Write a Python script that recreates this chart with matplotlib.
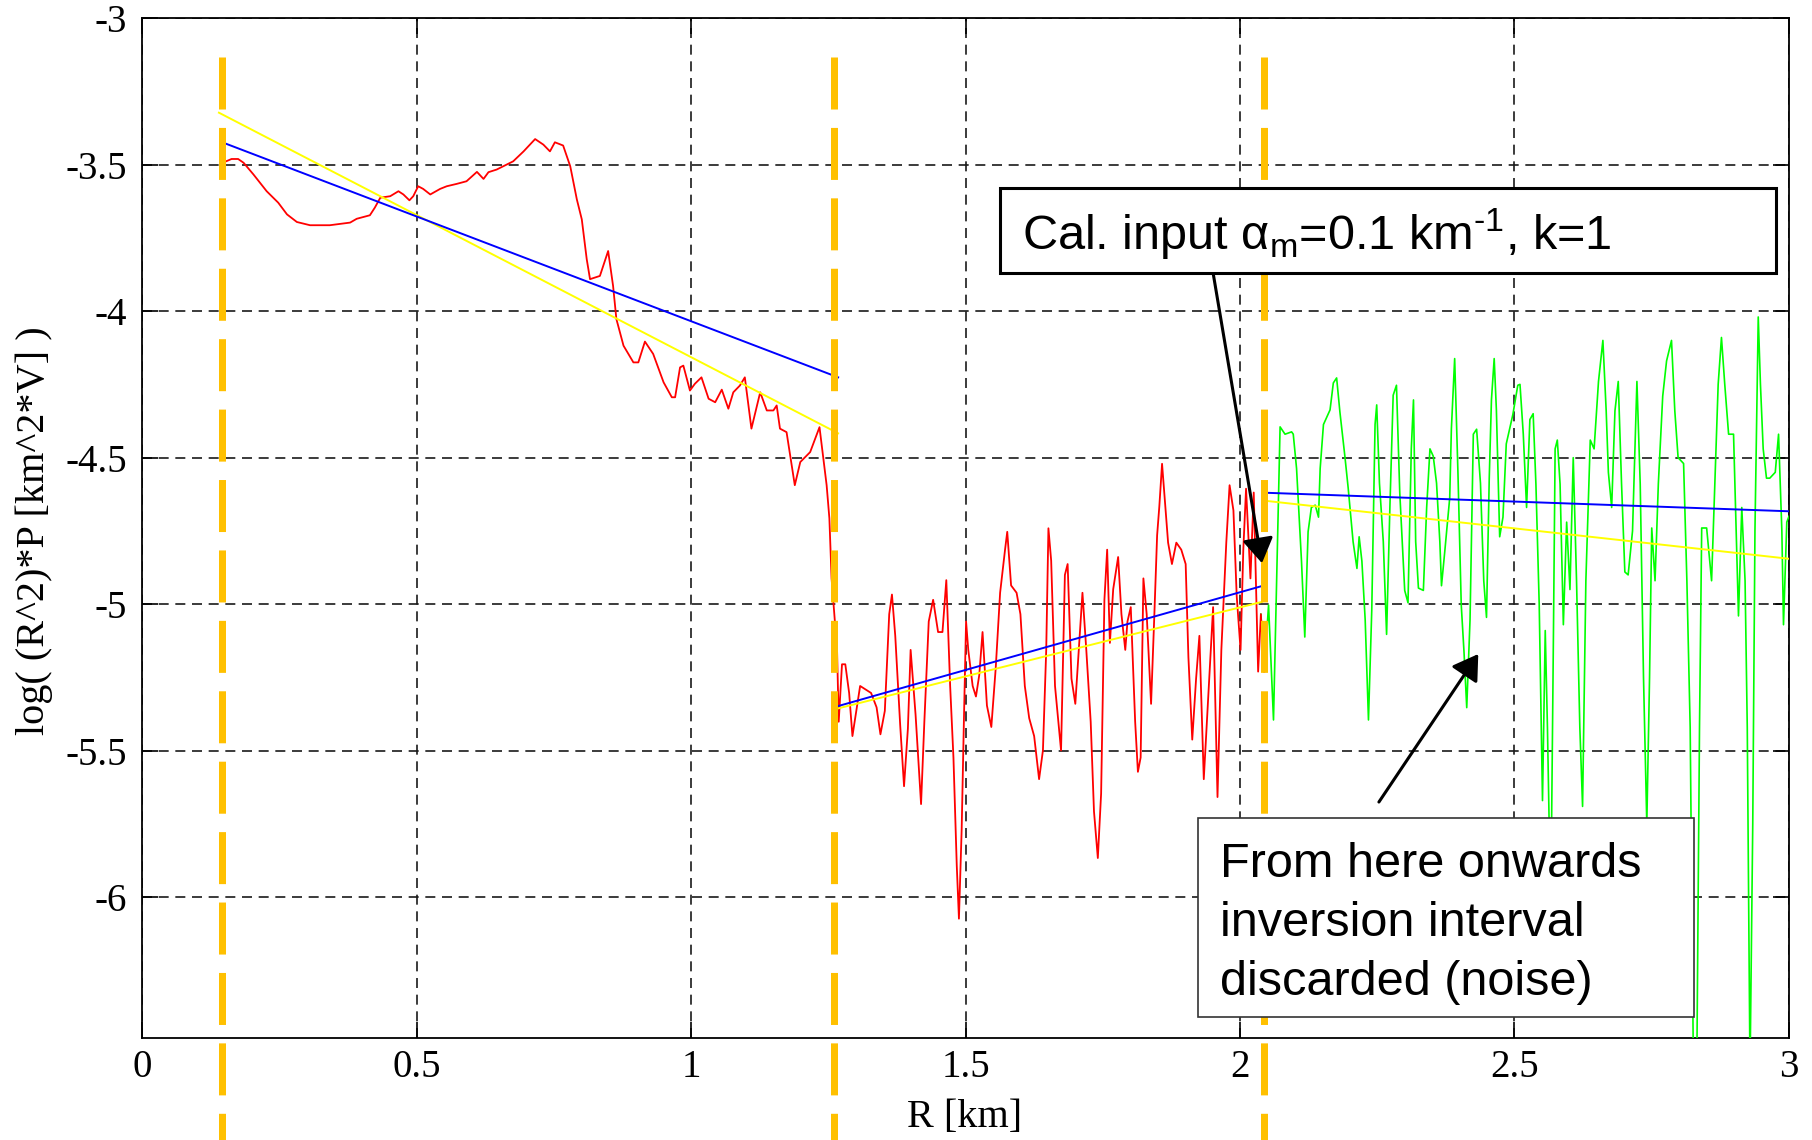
import numpy as np
import matplotlib as mpl
mpl.use('Agg')
import matplotlib.pyplot as plt
from matplotlib.patches import Rectangle
from matplotlib.ticker import MultipleLocator, FormatStrFormatter


# range corrected signal, first inversion interval (R in km, log value)
near_r = [0.153, 0.163, 0.175, 0.185, 0.203, 0.227, 0.248, 0.264, 0.282, 0.306,
          0.342, 0.379, 0.391, 0.415, 0.424, 0.434, 0.452, 0.467, 0.476, 0.487,
          0.494, 0.503, 0.512, 0.525, 0.543, 0.555, 0.573, 0.591, 0.610, 0.622,
          0.631, 0.646, 0.664, 0.676, 0.695, 0.716, 0.731, 0.743, 0.752, 0.767,
          0.780, 0.792, 0.801, 0.810, 0.816, 0.834, 0.849, 0.858, 0.864, 0.877,
          0.895, 0.904, 0.916, 0.931, 0.950, 0.965, 0.971, 0.980, 0.986, 0.998,
          1.007, 1.019, 1.032, 1.044, 1.056, 1.068, 1.077, 1.089, 1.098, 1.110,
          1.126, 1.138, 1.150, 1.156, 1.162, 1.174, 1.189, 1.199, 1.217, 1.234,
          1.241, 1.247, 1.252]
near_v = [-3.489, -3.481, -3.481, -3.494, -3.534, -3.591, -3.630, -3.670, -3.696, -3.707,
          -3.707, -3.698, -3.685, -3.673, -3.647, -3.613, -3.608, -3.591, -3.602, -3.622,
          -3.608, -3.574, -3.583, -3.602, -3.583, -3.574, -3.566, -3.557, -3.525, -3.549,
          -3.526, -3.517, -3.500, -3.489, -3.455, -3.413, -3.432, -3.455, -3.424, -3.435,
          -3.506, -3.619, -3.687, -3.823, -3.891, -3.880, -3.795, -3.914, -4.027, -4.118,
          -4.175, -4.175, -4.104, -4.146, -4.243, -4.294, -4.294, -4.192, -4.186, -4.271,
          -4.248, -4.226, -4.299, -4.311, -4.268, -4.333, -4.277, -4.254, -4.226, -4.401,
          -4.277, -4.339, -4.339, -4.322, -4.401, -4.413, -4.594, -4.515, -4.481, -4.396,
          -4.503, -4.594, -4.707]

# second inversion interval
mid_r = [1.256, 1.261, 1.266, 1.269, 1.275, 1.281, 1.288, 1.294, 1.300, 1.308,
         1.328, 1.338, 1.345, 1.353, 1.361, 1.366, 1.372, 1.381, 1.388, 1.395,
         1.400, 1.409, 1.419, 1.425, 1.433, 1.441, 1.450, 1.458, 1.465, 1.472,
         1.478, 1.484, 1.488, 1.493, 1.497, 1.501, 1.505, 1.513, 1.519, 1.525,
         1.531, 1.539, 1.547, 1.555, 1.563, 1.572, 1.576, 1.583, 1.593, 1.600,
         1.608, 1.616, 1.625, 1.634, 1.641, 1.647, 1.651, 1.656, 1.663, 1.674,
         1.681, 1.686, 1.693, 1.700, 1.713, 1.720, 1.728, 1.734, 1.741, 1.747,
         1.753, 1.758, 1.763, 1.769, 1.778, 1.784, 1.791, 1.795, 1.801, 1.809,
         1.814, 1.819, 1.824, 1.830, 1.838, 1.844, 1.849, 1.853, 1.858, 1.863,
         1.869, 1.876, 1.884, 1.893, 1.901, 1.906, 1.913, 1.920, 1.926, 1.934,
         1.944, 1.951, 1.959, 1.966, 1.975, 1.981, 1.988, 1.994, 2.001, 2.006,
         2.011, 2.019, 2.025, 2.033, 2.038, 2.044]
mid_v = [-4.912, -5.034, -5.156, -5.401, -5.205, -5.205, -5.303, -5.450, -5.377, -5.279,
         -5.303, -5.352, -5.444, -5.364, -5.034, -4.967, -5.108, -5.413, -5.621, -5.425,
         -5.156, -5.377, -5.682, -5.401, -5.059, -4.985, -5.095, -5.095, -4.918, -5.279,
         -5.523, -5.890, -6.073, -5.767, -5.401, -5.059, -5.156, -5.279, -5.315, -5.242,
         -5.095, -5.346, -5.419, -5.218, -4.961, -4.814, -4.753, -4.936, -4.961, -5.034,
         -5.279, -5.389, -5.450, -5.597, -5.499, -5.156, -4.741, -4.851, -5.279, -5.499,
         -4.900, -4.863, -5.254, -5.340, -4.961, -5.156, -5.401, -5.707, -5.866, -5.646,
         -4.985, -4.814, -5.132, -4.949, -4.839, -5.034, -5.156, -5.059, -5.010, -5.401,
         -5.572, -5.523, -4.912, -5.034, -5.340, -5.034, -4.765, -4.667, -4.521, -4.643,
         -4.790, -4.863, -4.790, -4.814, -4.863, -5.181, -5.462, -5.254, -5.108, -5.597,
         -5.254, -5.010, -5.658, -5.156, -4.790, -4.594, -4.680, -4.973, -5.156, -4.814,
         -4.606, -4.912, -4.619, -5.230, -5.034, -5.230]

# discarded part (noise)
far_r = [2.052, 2.061, 2.073, 2.082, 2.094, 2.097, 2.103, 2.112, 2.118, 2.124,
         2.130, 2.137, 2.143, 2.146, 2.152, 2.158, 2.164, 2.170, 2.176, 2.182,
         2.191, 2.197, 2.206, 2.213, 2.217, 2.222, 2.228, 2.234, 2.240, 2.246,
         2.249, 2.254, 2.261, 2.267, 2.273, 2.279, 2.285, 2.291, 2.300, 2.306,
         2.312, 2.316, 2.320, 2.325, 2.334, 2.340, 2.346, 2.352, 2.358, 2.364,
         2.367, 2.373, 2.382, 2.385, 2.391, 2.397, 2.403, 2.408, 2.413, 2.419,
         2.425, 2.431, 2.438, 2.444, 2.449, 2.454, 2.458, 2.463, 2.467, 2.473,
         2.479, 2.485, 2.491, 2.497, 2.506, 2.510, 2.516, 2.522, 2.528, 2.534,
         2.539, 2.545, 2.551, 2.556, 2.560, 2.566, 2.571, 2.574, 2.578, 2.583,
         2.589, 2.595, 2.601, 2.607, 2.613, 2.619, 2.624, 2.630, 2.638, 2.645,
         2.653, 2.661, 2.667, 2.671, 2.677, 2.683, 2.689, 2.695, 2.701, 2.707,
         2.715, 2.723, 2.729, 2.735, 2.741, 2.746, 2.750, 2.756, 2.762, 2.770,
         2.777, 2.786, 2.792, 2.798, 2.808, 2.814, 2.820, 2.826, 2.832, 2.837,
         2.841, 2.850, 2.859, 2.865, 2.871, 2.877, 2.883, 2.890, 2.899, 2.905,
         2.908, 2.914, 2.920, 2.924, 2.929, 2.934, 2.938, 2.944, 2.948, 2.953,
         2.959, 2.965, 2.975, 2.981, 2.987, 2.990, 2.996, 3.000]
far_v = [-5.003, -5.395, -4.395, -4.420, -4.412, -4.420, -4.537, -4.853, -5.112, -4.753,
         -4.670, -4.662, -4.703, -4.537, -4.387, -4.362, -4.337, -4.245, -4.228, -4.345,
         -4.495, -4.603, -4.787, -4.878, -4.770, -4.853, -5.053, -5.395, -5.020, -4.387,
         -4.320, -4.587, -4.787, -5.103, -4.670, -4.287, -4.253, -4.620, -4.953, -4.995,
         -4.470, -4.303, -4.787, -4.945, -4.953, -4.670, -4.470, -4.495, -4.587, -4.787,
         -4.937, -4.820, -4.637, -4.403, -4.162, -4.553, -5.003, -5.162, -5.353, -5.053,
         -4.420, -4.403, -4.587, -4.920, -5.045, -4.570, -4.303, -4.162, -4.337, -4.770,
         -4.703, -4.453, -4.403, -4.353, -4.253, -4.25, -4.42, -4.67, -4.37, -4.35,
         -4.59, -5.00, -5.67, -5.09, -5.42, -6.05, -5.09, -4.47, -4.44, -4.59,
         -5.07, -4.72, -4.95, -4.50, -4.92, -5.42, -5.69, -4.92, -4.44, -4.47,
         -4.24, -4.10, -4.34, -4.55, -4.67, -4.34, -4.24, -4.59, -4.89, -4.90,
         -4.75, -4.24, -4.59, -5.25, -5.75, -5.25, -4.74, -4.92, -4.59, -4.29,
         -4.17, -4.10, -4.34, -4.50, -4.52, -4.92, -5.42, -6.60, -6.60, -5.42,
         -4.74, -4.74, -4.92, -4.59, -4.25, -4.09, -4.25, -4.42, -4.42, -4.84,
         -5.04, -4.67, -4.92, -5.42, -6.60, -5.75, -4.75, -4.02, -4.25, -4.47,
         -4.57, -4.57, -4.55, -4.42, -4.75, -5.07, -4.72, -4.70]

# inversion interval limits [km]
interval_bounds = [0.146, 1.261, 2.044]

# linear fits per interval (start/end R and log value)
fit_r = [[0.153, 1.268], [1.269, 2.040], [2.050, 3.000]]
blue_fit_v = [[-3.429, -4.226], [-5.347, -4.938], [-4.620, -4.683]]
yellow_fit_r = [[0.140, 1.268], [1.269, 2.040], [2.050, 3.000]]
yellow_fit_v = [[-3.323, -4.417], [-5.355, -4.992], [-4.648, -4.845]]

plt.rcParams['font.family'] = 'Liberation Serif'
plt.rcParams['axes.unicode_minus'] = False
plt.rcParams['mathtext.fontset'] = 'custom'
plt.rcParams['mathtext.rm'] = 'Liberation Sans'
plt.rcParams['mathtext.it'] = 'Liberation Sans'

fig = plt.figure(figsize=(18.12, 11.4), dpi=100)
ax = fig.add_axes([0.0784, 0.0895, 0.9089, 0.8947])

r = np.concatenate([near_r, mid_r, far_r])
v = np.concatenate([near_v, mid_v, far_v])
inside = r <= interval_bounds[-1]
outside = r >= mid_r[-2]
ax.plot(r[outside], v[outside], color='#00ff00', lw=1.2, zorder=3)
ax.plot(r[inside], v[inside], color='#ff0000', lw=1.3, zorder=4)

for rr, vv in zip(yellow_fit_r, yellow_fit_v):
    ax.plot(rr, vv, color='#ffff00', lw=1.4, zorder=5)
for rr, vv in zip(fit_r, blue_fit_v):
    ax.plot(rr, vv, color='#0000ff', lw=1.4, zorder=5)

# interval limits, drawn past the axes like in the slide
for xb in interval_bounds:
    ax.plot([xb, xb], [-3.133, -6.95], color='#ffc000', lw=5.04,
            ls=(0, (7.43, 2.63)), clip_on=False, zorder=6)

ax.set_xlim(0, 3)
ax.set_ylim(-6.48, -3)
ax.xaxis.set_major_locator(MultipleLocator(0.5))
ax.yaxis.set_major_locator(MultipleLocator(0.5))
ax.xaxis.set_major_formatter(FormatStrFormatter('%g'))
ax.yaxis.set_major_formatter(FormatStrFormatter('%g'))
ax.grid(True, ls=(0, (6.0, 4.0)), lw=1.2, color='#1a1a1a')
ax.tick_params(direction='in', length=11.5, width=1.2, top=True, right=True,
               labelsize=28)
ax.tick_params(axis='x', pad=8)
ax.tick_params(axis='y', pad=11)
for s in ax.spines.values():
    s.set_linewidth(1.3)

fig.text(34 / 1812, 1 - 531 / 1140, 'log( (R^2)*P [km^2*V] )', rotation=90,
         ha='center', va='center', fontsize=29)
fig.text(965 / 1812, 1 - 1117 / 1140, 'R [km]', ha='center', va='center',
         fontsize=29)

# arrows
arrow_kw = dict(arrowstyle='-|>,head_length=0.4,head_width=0.25', mutation_scale=38,
                lw=2.2, color='k', shrinkA=0, shrinkB=0)
ax.annotate('', xy=(2.040, -4.86), xytext=(1.951, -3.87), arrowprops=arrow_kw,
            annotation_clip=False, zorder=7)
ax.annotate('', xy=(2.434, -5.17), xytext=(2.253, -5.675), arrowprops=arrow_kw,
            annotation_clip=False, zorder=7)

# text boxes
fig.add_artist(Rectangle((1000 / 1812, 1 - 273 / 1140), 776 / 1812, 85 / 1140,
                         transform=fig.transFigure, facecolor='white',
                         edgecolor='black', lw=2.2, zorder=10))
fig.text(1022 / 1812, 1 - 250 / 1140,
         r'Cal. input $\alpha_{m}$=0.1 km$^{\text{-1}}$, k=1',
         fontsize=35, family='Liberation Sans', ha='left', va='baseline', zorder=11)

fig.add_artist(Rectangle((1198 / 1812, 1 - 1017 / 1140), 496 / 1812, 199 / 1140,
                         transform=fig.transFigure, facecolor='white',
                         edgecolor='#333333', lw=1.2, zorder=10))
for i, line in enumerate(['From here onwards', 'inversion interval',
                          'discarded (noise)']):
    fig.text(1220 / 1812, 1 - (877 + 59 * i) / 1140, line, fontsize=35,
             family='Liberation Sans', ha='left', va='baseline', zorder=11)

plt.savefig('out.png', dpi=100)
